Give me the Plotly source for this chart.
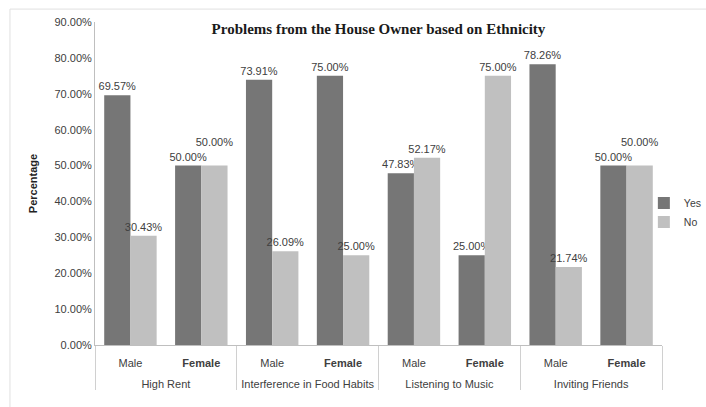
import plotly.graph_objects as go

groups = ["High Rent", "Interference in Food Habits", "Listening to Music", "Inviting Friends"]
genders = ["Male", "Female"]
yes_vals = [0.6957, 0.50, 0.7391, 0.75, 0.4783, 0.25, 0.7826, 0.50]
no_vals = [0.3043, 0.50, 0.2609, 0.25, 0.5217, 0.75, 0.2174, 0.50]

x_groups = ["<br>" + g for g in groups for _ in genders]
x_sub = [s for _ in groups for s in genders]
x_sub_lbl = [s if s == "Male" else "<b>" + s + "</b>" for s in x_sub]

yes_text = [f"{v:.2%}" for v in yes_vals]
# raise the "No" label where it would collide with the equal "Yes" label
no_text = [f"{n:.2%}" + ("<br> " if abs(n - y) < 1e-9 else "") for n, y in zip(no_vals, yes_vals)]

fig = go.Figure()
for name, vals, txt, col in [("Yes", yes_vals, yes_text, "#767676"), ("No", no_vals, no_text, "#c0c0c0")]:
    fig.add_trace(go.Bar(name=name, x=[x_groups, x_sub_lbl], y=vals, marker_color=col,
                         marker_line_width=0, text=txt, texttemplate="%{text}",
                         textposition="outside", constraintext="none",
                         textfont=dict(size=11, color="#404040"), cliponaxis=False))

fig.update_layout(
    width=706, height=407,
    margin=dict(l=95, r=44, t=22, b=62, autoexpand=False),
    paper_bgcolor="white", plot_bgcolor="white",
    font=dict(family="Liberation Sans, Arial, sans-serif", size=11, color="#404040"),
    barmode="group", bargap=0.26, bargroupgap=0,
    title=dict(text="<b>Problems from the House Owner based on Ethnicity</b>",
               font=dict(family="Liberation Serif, Times New Roman, serif", size=15, color="#1a1a1a"),
               x=0.5, xanchor="center", xref="paper", y=0.93, yanchor="middle"),
    showlegend=True,
    legend=dict(x=0.968, y=0.41, xanchor="left", yanchor="middle", bgcolor="rgba(0,0,0,0)",
                font=dict(size=10.5, color="#404040"), itemwidth=30, tracegroupgap=4),
    uniformtext=dict(mode="show", minsize=11),
)
fig.update_yaxes(range=[0, 0.9], dtick=0.1, tickformat=".2%", showgrid=False,
                 showline=True, linecolor="#bfbfbf", linewidth=1, ticks="", zeroline=False,
                 title=dict(text="<b>Percentage</b>", font=dict(size=11, color="#222222"), standoff=14),
                 tickfont=dict(size=11, color="#404040"))
fig.update_xaxes(type="multicategory", showline=True, linecolor="#bfbfbf", linewidth=1,
                 showdividers=True, dividercolor="#d0d0d0", dividerwidth=1, ticks="",
                 ticklabelstandoff=8,
                 tickfont=dict(size=11, color="#404040"))
fig.add_shape(type="rect", xref="paper", yref="paper", x0=-0.15, x1=1.2, y0=-0.5, y1=1.04,
              line=dict(color="#e0e0e0", width=1), layer="below")
fig.write_html("out.html")
